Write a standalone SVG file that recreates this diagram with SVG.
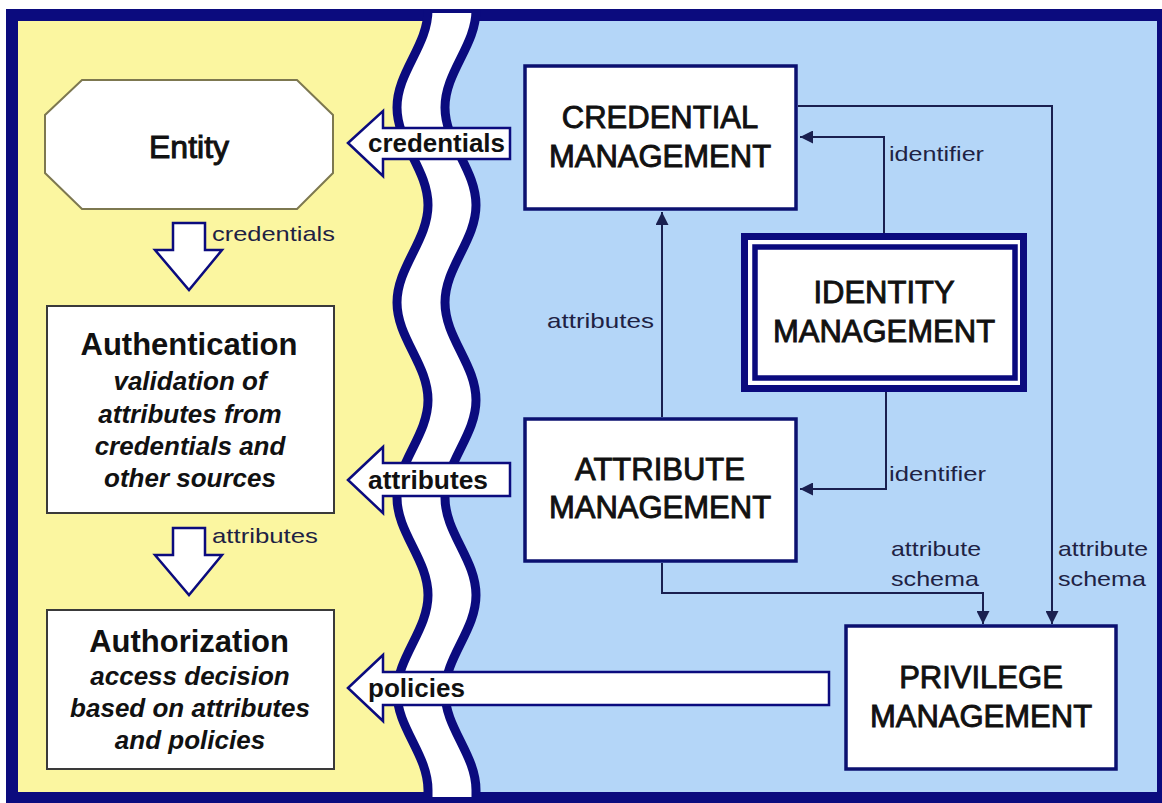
<svg xmlns="http://www.w3.org/2000/svg" width="1162" height="803" viewBox="0 0 1162 803">
<defs>
<style>
.t{font-family:"Liberation Sans",Arial,sans-serif;fill:#111;text-anchor:middle}
.mg{font-size:31px;stroke:#111;stroke-width:0.9}
.en{font-size:32px;stroke:#111;stroke-width:1}
.ti{font-size:31px;font-weight:bold}
.it{font-size:26px;font-weight:bold;font-style:italic}
.lb{font-family:"Liberation Sans",Arial,sans-serif;font-size:21px;fill:#1e2244}
.ab{font-family:"Liberation Sans",Arial,sans-serif;font-size:25px;font-weight:bold;fill:#111}
.box{fill:#fff;stroke:#0b1170;stroke-width:3.5}
.lbox{fill:#fff;stroke:#3a3a3a;stroke-width:2}
.fat{fill:#fff;stroke:#0b0b7e;stroke-width:2.5;stroke-linejoin:miter}
.wave{fill:none;stroke:#0b0b7e;stroke-width:9}
.con{fill:none;stroke:#1a2050;stroke-width:2}
</style>
<clipPath id="inner"><rect x="18" y="21" width="1139" height="771"/></clipPath>
<marker id="ah" viewBox="0 0 10 10" refX="10" refY="5" markerWidth="14" markerHeight="13" markerUnits="userSpaceOnUse" orient="auto">
<path d="M0,0 L10,5 L0,10 z" fill="#1a2050"/>
</marker>
</defs>

<g id="frame">
<rect x="0" y="0" width="1162" height="803" fill="#fff"/>
<rect x="6" y="9" width="1156" height="794" fill="#0b0b7e"/>
<g clip-path="url(#inner)">
<rect x="18" y="21" width="1139" height="771" fill="#b4d6f8"/>
<path fill="#fbf6a0" d="M18,10 L428,10 C428,45.5 397,72 397,107.5 C397,143 428,169.5 428,205 C428,240.5 397,267 397,302.5 C397,338 428,364.5 428,400 C428,435.5 397,462 397,497.5 C397,533 428,559.5 428,595 C428,630.5 397,657 397,692.5 C397,728 428,754.5 428,790 L428,796 L18,796 Z"/>
</g>
<path fill="#fff" d="M428,13 L428,10 C428,45.5 397,72 397,107.5 C397,143 428,169.5 428,205 C428,240.5 397,267 397,302.5 C397,338 428,364.5 428,400 C428,435.5 397,462 397,497.5 C397,533 428,559.5 428,595 C428,630.5 397,657 397,692.5 C397,728 428,754.5 428,790 L428,797 L476,797 L476,790 C476,754.5 445,728 445,692.5 C445,657 476,630.5 476,595 C476,559.5 445,533 445,497.5 C445,462 476,435.5 476,400 C476,364.5 445,338 445,302.5 C445,267 476,240.5 476,205 C476,169.5 445,143 445,107.5 C445,72 476,45.5 476,10 L476,13 Z"/>
<path class="wave" d="M428,12 L428,10 C428,45.5 397,72 397,107.5 C397,143 428,169.5 428,205 C428,240.5 397,267 397,302.5 C397,338 428,364.5 428,400 C428,435.5 397,462 397,497.5 C397,533 428,559.5 428,595 C428,630.5 397,657 397,692.5 C397,728 428,754.5 428,790 L428,797"/>
<path class="wave" d="M476,12 L476,10 C476,45.5 445,72 445,107.5 C445,143 476,169.5 476,205 C476,240.5 445,267 445,302.5 C445,338 476,364.5 476,400 C476,435.5 445,462 445,497.5 C445,533 476,559.5 476,595 C476,630.5 445,657 445,692.5 C445,728 476,754.5 476,790 L476,797"/>
</g>

<g id="connectors">
<path class="con" d="M884,233 V137 H800" marker-end="url(#ah)"/>
<path class="con" d="M886,392 V489 H800" marker-end="url(#ah)"/>
<path class="con" d="M662,417 V212" marker-end="url(#ah)"/>
<path class="con" d="M798,106 H1052 V624" marker-end="url(#ah)"/>
<path class="con" d="M662,563 V593 H983 V624" marker-end="url(#ah)"/>
<text class="lb" x="889" y="161" textLength="95" lengthAdjust="spacingAndGlyphs">identifier</text>
<text class="lb" x="889" y="481" textLength="97" lengthAdjust="spacingAndGlyphs">identifier</text>
<text class="lb" x="547" y="328" textLength="107" lengthAdjust="spacingAndGlyphs">attributes</text>
<text class="lb" x="891" y="556" textLength="90" lengthAdjust="spacingAndGlyphs">attribute</text>
<text class="lb" x="891" y="586" textLength="88" lengthAdjust="spacingAndGlyphs">schema</text>
<text class="lb" x="1058" y="556" textLength="90" lengthAdjust="spacingAndGlyphs">attribute</text>
<text class="lb" x="1058" y="586" textLength="88" lengthAdjust="spacingAndGlyphs">schema</text>
<path class="fat" d="M173,223 H205 V250 H222 L189,290 L155,250 H173 Z"/>
<text class="lb" x="212" y="241" textLength="123" lengthAdjust="spacingAndGlyphs">credentials</text>
<path class="fat" d="M173,528 H205 V555 H222 L189,595 L155,555 H173 Z"/>
<text class="lb" x="212" y="543" textLength="106" lengthAdjust="spacingAndGlyphs">attributes</text>
<path class="fat" d="M348,143 L383,111 V128 H510 V159 H383 V176 Z"/>
<text class="ab" x="368" y="152" textLength="137" lengthAdjust="spacingAndGlyphs">credentials</text>
<path class="fat" d="M348,480 L383,447 V463 H510 V496 H383 V513 Z"/>
<text class="ab" x="368" y="489" textLength="120" lengthAdjust="spacingAndGlyphs">attributes</text>
<path class="fat" d="M348,688 L383,655 V672 H829 V705 H383 V721 Z"/>
<text class="ab" x="368" y="697" textLength="97" lengthAdjust="spacingAndGlyphs">policies</text>
</g>

<g id="entity">
<path d="M82,80 H297 L333,115 V173 L297,209 H82 L45,173 V115 Z" fill="#fff" stroke="#7d7850" stroke-width="2"/>
<text class="t en" x="189" y="158">Entity</text>
</g>

<g id="authentication">
<rect class="lbox" x="47" y="306" width="287" height="207"/>
<text class="t ti" x="189" y="355">Authentication</text>
<text class="t it" x="190" y="390">validation of</text>
<text class="t it" x="190" y="423">attributes from</text>
<text class="t it" x="190" y="455">credentials and</text>
<text class="t it" x="190" y="487">other sources</text>
</g>

<g id="authorization">
<rect class="lbox" x="47" y="610" width="287" height="159"/>
<text class="t ti" x="189" y="652">Authorization</text>
<text class="t it" x="190" y="685">access decision</text>
<text class="t it" x="190" y="717">based on attributes</text>
<text class="t it" x="190" y="749">and policies</text>
</g>

<g id="credential-management">
<rect class="box" x="525" y="66" width="271" height="143"/>
<text class="t mg" x="660" y="128">CREDENTIAL</text>
<text class="t mg" x="660" y="167">MANAGEMENT</text>
</g>

<g id="identity-management">
<rect x="744.5" y="236.5" width="279" height="152" fill="#fff" stroke="#0b0b7e" stroke-width="7"/>
<rect x="755" y="247" width="260" height="131" fill="none" stroke="#0b0b7e" stroke-width="5.5"/>
<text class="t mg" x="884" y="303">IDENTITY</text>
<text class="t mg" x="884" y="342">MANAGEMENT</text>
</g>

<g id="attribute-management">
<rect class="box" x="525" y="419" width="271" height="142"/>
<text class="t mg" x="660" y="480">ATTRIBUTE</text>
<text class="t mg" x="660" y="518">MANAGEMENT</text>
</g>

<g id="privilege-management">
<rect class="box" x="846" y="626" width="270" height="143"/>
<text class="t mg" x="981" y="688">PRIVILEGE</text>
<text class="t mg" x="981" y="727">MANAGEMENT</text>
</g>
</svg>
